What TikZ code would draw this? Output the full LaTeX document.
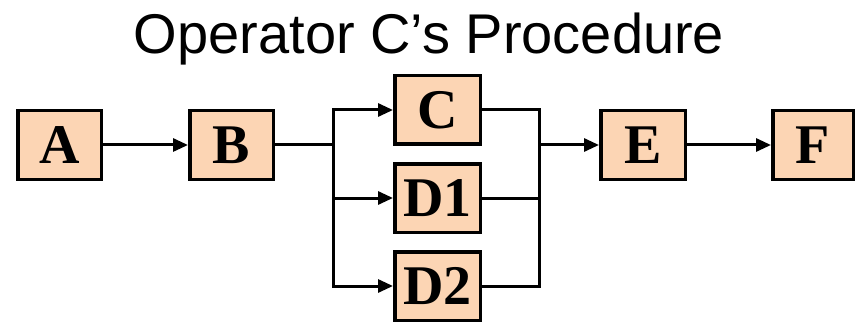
\documentclass[tikz,border=0pt]{standalone}
\usepackage{fontspec}
\setmainfont{Liberation Serif}
\newfontfamily\titlefont{Liberation Sans}
\usetikzlibrary{arrows.meta}
\definecolor{peach}{RGB}{252,213,180}
\begin{document}
\begin{tikzpicture}[x=1pt,y=-1pt,
  box/.style={draw=black, line width=3.5pt, fill=peach, minimum width=83.5pt, minimum height=68.5pt, inner sep=0pt, font=\fontsize{56}{56}\selectfont\bfseries},
  conn/.style={line width=3pt, draw=black},
  arr/.style={conn, -{Triangle[length=15pt,width=13pt]}}]
\useasboundingbox (0,0) rectangle (858,323);
\node[font=\titlefont\fontsize{56}{56}\selectfont, anchor=base, inner sep=0pt] (title) at (429,54) {Operator C’s Procedure};
\node[box] (A) at (59.5,145) {A};
\node[box] (B) at (231.5,145) {B};
\node[box, minimum width=85.5pt] (C) at (437.5,110) {C};
\node[box, minimum width=85.5pt] (D1) at (437.5,198) {D1};
\node[box, minimum width=85.5pt] (D2) at (437.5,286) {D2};
\node[box, minimum width=84.5pt] (E) at (643,145) {E};
\node[box, minimum width=80.5pt] (F) at (813,145) {F};
\coordinate (L) at (333,145);
\coordinate (R) at (539,145);
\draw[arr] (A) -- (B);
\draw[conn] (B.east) -- (L);
\draw[arr] (L) |- (C.west);
\draw[arr] (L) |- (D1.west);
\draw[arr] (L) |- (D2.west);
\draw[conn] (C.east) -| (R);
\draw[conn] (D1.east) -| (R);
\draw[conn] (D2.east) -| (R);
\draw[arr] (R) -- (E);
\draw[arr] (E) -- (F);
\end{tikzpicture}
\end{document}
